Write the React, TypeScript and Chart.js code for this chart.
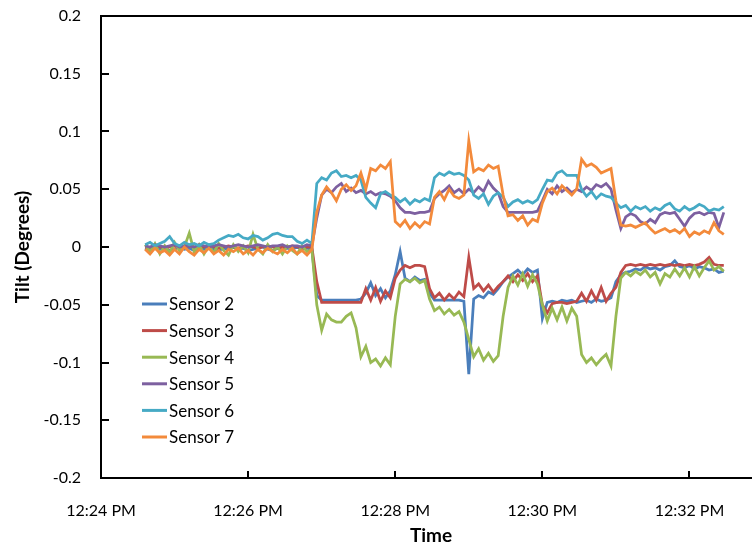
import React, { useEffect, useRef } from "react";
import { Chart, registerables } from "chart.js";

Chart.register(...registerables);

// ---------- data ----------
const SERIES_NAMES = ["Sensor 2", "Sensor 3", "Sensor 4", "Sensor 5", "Sensor 6", "Sensor 7"];

// seconds after 12:24:00 PM
const TIME_SECONDS = [
  36, 40, 44, 48, 52, 56, 60, 64, 68, 72,
  76, 80, 84, 88, 92, 96, 100, 104, 108, 112,
  116, 120, 124, 128, 132, 136, 140, 144, 148, 152,
  156, 160, 164, 168, 172, 176, 180, 184, 188, 192,
  196, 200, 204, 208, 212, 216, 220, 224, 228, 232,
  236, 240, 244, 248, 252, 256, 260, 264, 268, 272,
  276, 280, 284, 288, 292, 296, 300, 304, 308, 312,
  316, 320, 324, 328, 332, 336, 340, 344, 348, 352,
  356, 360, 364, 368, 372, 376, 380, 384, 388, 392,
  396, 400, 404, 408, 412, 416, 420, 424, 428, 432,
  436, 440, 444, 448, 452, 456, 460, 464, 468, 472,
  476, 480, 484, 488, 492, 496, 500, 504, 508,
];

const SENSOR_2 = [
  -0.001, -0.003, 0.000, -0.002, -0.001, -0.003, -0.002, 0.000, -0.002, -0.001,
  -0.003, -0.001, -0.002, 0.000, -0.002, -0.003, -0.001, -0.002, 0.000, -0.002,
  -0.001, -0.003, -0.002, -0.001, 0.000, -0.002, -0.003, -0.001, -0.002, -0.001,
  -0.002, 0.000, -0.002, -0.001, -0.002, -0.042, -0.046, -0.046, -0.046, -0.046,
  -0.046, -0.046, -0.046, -0.046, -0.045, -0.040, -0.031, -0.042, -0.036, -0.044,
  -0.038, -0.024, -0.004, -0.027, -0.030, -0.026, -0.029, -0.028, -0.040, -0.046,
  -0.046, -0.046, -0.046, -0.046, -0.046, -0.047, -0.110, -0.045, -0.042, -0.044,
  -0.039, -0.041, -0.036, -0.030, -0.026, -0.023, -0.020, -0.024, -0.019, -0.022,
  -0.020, -0.062, -0.048, -0.047, -0.048, -0.046, -0.047, -0.046, -0.048, -0.047,
  -0.046, -0.048, -0.045, -0.047, -0.046, -0.044, -0.030, -0.024, -0.022, -0.021,
  -0.019, -0.020, -0.017, -0.019, -0.018, -0.020, -0.017, -0.016, -0.012, -0.017,
  -0.018, -0.016, -0.019, -0.017, -0.018, -0.020, -0.019, -0.022, -0.021,
];

const SENSOR_3 = [
  0.000, -0.001, 0.001, 0.000, -0.001, 0.000, 0.001, -0.001, 0.000, 0.001,
  0.000, -0.001, 0.000, 0.001, 0.000, -0.001, 0.000, 0.001, 0.000, -0.001,
  0.000, 0.001, 0.000, -0.001, 0.000, 0.001, 0.000, -0.001, 0.000, 0.000,
  0.001, 0.000, -0.001, 0.000, 0.000, -0.030, -0.048, -0.048, -0.048, -0.048,
  -0.048, -0.048, -0.048, -0.048, -0.048, -0.036, -0.046, -0.035, -0.047, -0.038,
  -0.044, -0.027, -0.020, -0.016, -0.018, -0.016, -0.016, -0.017, -0.036, -0.044,
  -0.040, -0.046, -0.041, -0.045, -0.039, -0.043, -0.009, -0.036, -0.032, -0.038,
  -0.033, -0.039, -0.034, -0.030, -0.025, -0.030, -0.024, -0.029, -0.023, -0.030,
  -0.025, -0.050, -0.057, -0.049, -0.048, -0.048, -0.049, -0.048, -0.047, -0.040,
  -0.047, -0.038, -0.046, -0.035, -0.047, -0.040, -0.035, -0.022, -0.016, -0.015,
  -0.016, -0.015, -0.016, -0.015, -0.016, -0.015, -0.016, -0.015, -0.016, -0.015,
  -0.016, -0.015, -0.016, -0.015, -0.013, -0.009, -0.015, -0.016, -0.016,
];

const SENSOR_4 = [
  0.002, -0.004, 0.003, -0.006, 0.001, -0.005, 0.004, -0.003, 0.000, 0.012,
  -0.004, 0.002, -0.006, 0.001, -0.005, 0.003, -0.003, -0.007, 0.002, -0.004,
  0.001, -0.005, 0.011, -0.002, -0.006, 0.002, -0.004, 0.000, -0.006, 0.001,
  -0.003, -0.006, 0.001, -0.004, -0.002, -0.050, -0.072, -0.058, -0.063, -0.065,
  -0.065, -0.060, -0.057, -0.070, -0.095, -0.086, -0.100, -0.097, -0.103, -0.096,
  -0.102, -0.060, -0.032, -0.028, -0.030, -0.027, -0.031, -0.029, -0.045, -0.055,
  -0.052, -0.058, -0.054, -0.059, -0.056, -0.065, -0.080, -0.095, -0.088, -0.098,
  -0.092, -0.099, -0.094, -0.060, -0.035, -0.025, -0.033, -0.023, -0.034, -0.024,
  -0.032, -0.050, -0.064, -0.053, -0.063, -0.052, -0.064, -0.053, -0.060, -0.093,
  -0.100, -0.096, -0.102, -0.097, -0.093, -0.103, -0.060, -0.027, -0.022, -0.025,
  -0.021, -0.024, -0.020, -0.026, -0.022, -0.032, -0.023, -0.026, -0.019, -0.025,
  -0.018, -0.026, -0.017, -0.025, -0.018, -0.012, -0.020, -0.017, -0.021,
];

const SENSOR_5 = [
  0.001, 0.000, 0.002, 0.001, 0.000, 0.001, 0.002, 0.000, 0.001, 0.001,
  0.000, 0.002, 0.001, 0.000, 0.001, 0.002, 0.001, 0.000, 0.001, 0.002,
  0.001, 0.000, 0.001, 0.002, 0.001, 0.000, 0.001, 0.001, 0.002, 0.000,
  0.001, 0.001, 0.000, 0.002, 0.001, 0.025, 0.045, 0.050, 0.047, 0.052,
  0.055, 0.048, 0.051, 0.047, 0.049, 0.046, 0.048, 0.045, 0.047, 0.046,
  0.044, 0.040, 0.034, 0.030, 0.030, 0.029, 0.030, 0.030, 0.031, 0.042,
  0.046, 0.049, 0.053, 0.047, 0.050, 0.046, 0.050, 0.047, 0.052, 0.048,
  0.057, 0.051, 0.047, 0.035, 0.030, 0.030, 0.030, 0.030, 0.030, 0.030,
  0.031, 0.040, 0.050, 0.046, 0.053, 0.048, 0.051, 0.047, 0.050, 0.048,
  0.052, 0.049, 0.054, 0.052, 0.055, 0.050, 0.032, 0.016, 0.026, 0.029,
  0.027, 0.022, 0.020, 0.024, 0.021, 0.028, 0.030, 0.029, 0.030, 0.024,
  0.018, 0.025, 0.029, 0.030, 0.028, 0.030, 0.029, 0.017, 0.030,
];

const SENSOR_6 = [
  0.002, 0.004, 0.001, 0.003, 0.005, 0.009, 0.003, 0.001, 0.004, 0.002,
  0.003, 0.001, 0.004, 0.002, 0.003, 0.006, 0.008, 0.010, 0.009, 0.011,
  0.008, 0.007, 0.010, 0.009, 0.006, 0.008, 0.011, 0.012, 0.010, 0.009,
  0.009, 0.005, 0.003, 0.006, 0.003, 0.055, 0.060, 0.058, 0.064, 0.066,
  0.061, 0.062, 0.060, 0.062, 0.058, 0.043, 0.038, 0.034, 0.046, 0.048,
  0.045, 0.043, 0.039, 0.042, 0.037, 0.041, 0.039, 0.042, 0.040, 0.060,
  0.064, 0.062, 0.065, 0.063, 0.064, 0.062, 0.058, 0.045, 0.042, 0.046,
  0.037, 0.044, 0.047, 0.043, 0.035, 0.039, 0.041, 0.038, 0.040, 0.038,
  0.041, 0.050, 0.058, 0.057, 0.064, 0.066, 0.062, 0.062, 0.062, 0.050,
  0.044, 0.048, 0.042, 0.046, 0.044, 0.043, 0.038, 0.034, 0.036, 0.031,
  0.035, 0.033, 0.035, 0.031, 0.034, 0.032, 0.036, 0.038, 0.033, 0.031,
  0.035, 0.032, 0.034, 0.037, 0.035, 0.031, 0.033, 0.032, 0.035,
];

const SENSOR_7 = [
  -0.002, -0.006, -0.001, -0.005, -0.003, -0.007, -0.002, -0.006, 0.000, -0.004,
  -0.007, -0.002, -0.005, -0.001, -0.006, -0.003, -0.007, -0.002, -0.004, -0.001,
  -0.006, -0.003, -0.007, -0.002, -0.005, -0.001, -0.004, -0.006, -0.002, -0.005,
  -0.001, -0.006, -0.003, -0.007, -0.002, 0.030, 0.045, 0.052, 0.047, 0.040,
  0.050, 0.054, 0.049, 0.053, 0.064, 0.050, 0.068, 0.066, 0.071, 0.068,
  0.074, 0.022, 0.018, 0.023, 0.016, 0.021, 0.017, 0.022, 0.020, 0.043,
  0.048, 0.041, 0.050, 0.044, 0.042, 0.045, 0.092, 0.065, 0.068, 0.066,
  0.071, 0.068, 0.070, 0.045, 0.027, 0.028, 0.023, 0.027, 0.019, 0.024,
  0.022, 0.038, 0.048, 0.051, 0.046, 0.053, 0.049, 0.045, 0.050, 0.076,
  0.070, 0.072, 0.069, 0.064, 0.066, 0.068, 0.040, 0.019, 0.018, 0.019,
  0.017, 0.019, 0.021, 0.016, 0.012, 0.014, 0.016, 0.013, 0.015, 0.012,
  0.016, 0.009, 0.013, 0.011, 0.014, 0.012, 0.021, 0.014, 0.011,
];

const SERIES_VALUES = [SENSOR_2, SENSOR_3, SENSOR_4, SENSOR_5, SENSOR_6, SENSOR_7];

const Y_TICKS = [-0.2, -0.15, -0.1, -0.05, 0, 0.05, 0.1, 0.15, 0.2];
const Y_TICK_LABELS = ["-0.2", "-0.15", "-0.1", "-0.05", "0", "0.05", "0.1", "0.15", "0.2"];
const X_TICKS = [0, 120, 240, 360, 480];
const X_TICK_LABELS = ["12:24 PM", "12:26 PM", "12:28 PM", "12:30 PM", "12:32 PM"];
const X_MIN = 0;
const X_MAX = 531;
const Y_MIN = -0.2;
const Y_MAX = 0.2;

const X_TITLE = "Time";
const Y_TITLE = "Tilt (Degrees)";

// ---------- styles ----------
const COLORS = ["#4A7EBB", "#BE4B48", "#98B954", "#7D60A0", "#46AAC5", "#F38A3B"];
const FONT = "Lato";

const decorPlugin = {
  id: "decor",
  afterDraw(chart: any) {
    const ctx = chart.ctx as CanvasRenderingContext2D;
    const { left, right, top, bottom } = chart.chartArea;
    const xs = chart.scales.x;
    const ys = chart.scales.y;
    ctx.save();
    ctx.strokeStyle = "#000";
    ctx.lineWidth = 2;
    ctx.lineCap = "butt";
    ctx.beginPath();
    // frame lines
    ctx.moveTo(left - 1, top);
    ctx.lineTo(chart.width, top);
    ctx.moveTo(left, top - 1);
    ctx.lineTo(left, bottom + 1);
    ctx.moveTo(left - 1, bottom);
    ctx.lineTo(right, bottom);
    // inside tick marks
    Y_TICKS.forEach((v) => {
      const y = Math.round(ys.getPixelForValue(v));
      ctx.moveTo(left, y);
      ctx.lineTo(left + 8, y);
    });
    X_TICKS.forEach((v) => {
      const x = Math.round(xs.getPixelForValue(v));
      ctx.moveTo(x, bottom);
      ctx.lineTo(x, bottom - 7);
    });
    ctx.stroke();

    // axis titles
    ctx.fillStyle = "#000";
    ctx.font = `bold 19px ${FONT}`;
    ctx.textAlign = "center";
    ctx.textBaseline = "middle";
    ctx.fillText(X_TITLE, 431, 536);
    ctx.save();
    ctx.translate(23, 247);
    ctx.rotate(-Math.PI / 2);
    ctx.fillText(Y_TITLE, 0, 0);
    ctx.restore();

    // legend (inside plot area)
    ctx.font = `17px ${FONT}`;
    ctx.textAlign = "left";
    SERIES_NAMES.forEach((name, i) => {
      const y = 304 + i * 26.6;
      ctx.strokeStyle = COLORS[i];
      ctx.lineWidth = 3;
      ctx.beginPath();
      ctx.moveTo(142, y);
      ctx.lineTo(167, y);
      ctx.stroke();
      ctx.fillStyle = "#000";
      ctx.fillText(name, 169, y + 1);
    });
    ctx.restore();
  },
};

export default function App() {
  const canvasRef = useRef<HTMLCanvasElement | null>(null);

  useEffect(() => {
    document.body.style.margin = "0";
    const canvas = canvasRef.current;
    if (!canvas) return;
    Chart.defaults.font.family = FONT;

    const datasets = SERIES_NAMES.map((name, i) => ({
      label: name,
      data: TIME_SECONDS.map((t, k) => ({ x: t, y: SERIES_VALUES[i][k] })),
      borderColor: COLORS[i],
      backgroundColor: COLORS[i],
      borderWidth: 2.75,
      pointRadius: 0,
      tension: 0,
      fill: false,
      order: SERIES_NAMES.length - i,
    }));

    const chart = new Chart(canvas, {
      type: "line",
      data: { datasets },
      options: {
        animation: false,
        responsive: false,
        devicePixelRatio: 1,
        layout: { padding: { top: 16, left: 0, right: 0, bottom: 0 } },
        plugins: {
          legend: { display: false },
          tooltip: { enabled: false },
        },
        scales: {
          x: {
            type: "linear",
            min: X_MIN,
            max: X_MAX,
            grid: { display: false, drawTicks: false },
            border: { display: false },
            afterBuildTicks: (scale: any) => {
              scale.ticks = X_TICKS.map((v) => ({ value: v }));
            },
            afterFit: (scale: any) => {
              scale.height = 68;
              scale.paddingLeft = 0;
              scale.paddingRight = 0;
            },
            ticks: {
              autoSkip: false,
              maxRotation: 0,
              minRotation: 0,
              padding: 23,
              color: "#000",
              font: { family: FONT, size: 16 },
              callback: (v: any) => {
                const idx = X_TICKS.indexOf(Number(v));
                return idx >= 0 ? X_TICK_LABELS[idx] : "";
              },
            },
          },
          y: {
            type: "linear",
            min: Y_MIN,
            max: Y_MAX,
            grid: { display: false, drawTicks: false },
            border: { display: false },
            afterBuildTicks: (scale: any) => {
              scale.ticks = Y_TICKS.map((v) => ({ value: v }));
            },
            afterFit: (scale: any) => {
              scale.width = 101;
              scale.paddingTop = 0;
              scale.paddingBottom = 0;
            },
            ticks: {
              autoSkip: false,
              padding: 20,
              color: "#000",
              font: { family: FONT, size: 16 },
              callback: (v: any) => {
                const idx = Y_TICKS.findIndex((t) => Math.abs(t - Number(v)) < 1e-9);
                return idx >= 0 ? Y_TICK_LABELS[idx] : "";
              },
            },
          },
        },
      },
      plugins: [decorPlugin],
    });

    return () => chart.destroy();
  }, []);

  return (
    <div style={{ position: "absolute", left: 0, top: 0, width: 752, height: 546, background: "#fff" }}>
      <canvas ref={canvasRef} width={752} height={546} style={{ display: "block" }} />
    </div>
  );
}
